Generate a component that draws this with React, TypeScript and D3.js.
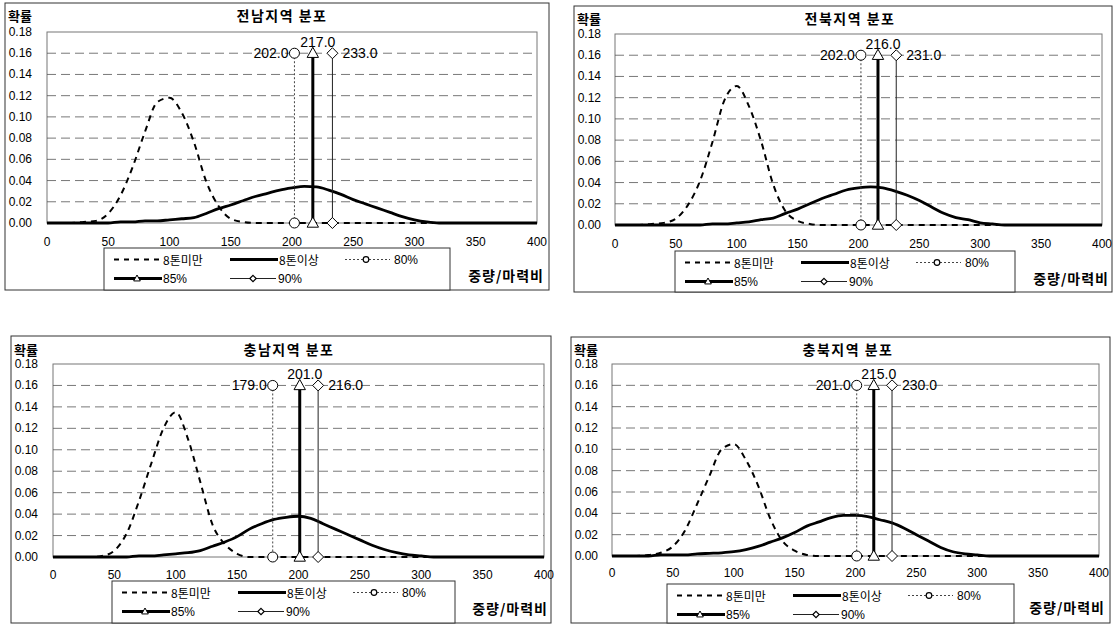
import React from 'react';
import * as d3 from 'd3';

// ---------- DATA ----------
const xGrid = [0, 10, 20, 30, 40, 50, 60, 70, 80, 90, 100, 110, 120, 130, 140, 150, 160, 170, 180, 190, 200,
  210, 220, 230, 240, 250, 260, 270, 280, 290, 300, 310, 320, 330, 340, 350, 360, 370, 380, 390, 400];

const regionTitles = ['전남지역 분포', '전북지역 분포', '충남지역 분포', '충북지역 분포'];

// 8톤미만 (dashed)
const under8Jeonnam = [0, 0, 0, 0.001, 0.002, 0.009, 0.026, 0.053, 0.086, 0.114, 0.118, 0.104, 0.076, 0.039, 0.016, 0.004, 0.001,
  0, 0, 0, 0, 0, 0, 0, 0, 0, 0, 0, 0, 0, 0, 0, 0, 0, 0, 0, 0, 0, 0, 0, 0];
const under8Jeonbuk = [0, 0, 0, 0.001, 0.002, 0.006, 0.019, 0.042, 0.078, 0.118, 0.131, 0.112, 0.079, 0.038, 0.013, 0.004, 0.001,
  0, 0, 0, 0, 0, 0, 0, 0, 0, 0, 0, 0, 0, 0, 0, 0, 0, 0, 0, 0, 0, 0, 0, 0];
const under8Chungnam = [0, 0, 0, 0, 0.001, 0.006, 0.022, 0.052, 0.087, 0.12, 0.135, 0.11, 0.07, 0.03, 0.012, 0.003,
  0, 0, 0, 0, 0, 0, 0, 0, 0, 0, 0, 0, 0, 0, 0, 0, 0, 0, 0, 0, 0, 0, 0, 0, 0];
const under8Chungbuk = [0, 0, 0, 0.001, 0.003, 0.009, 0.024, 0.049, 0.075, 0.1, 0.105, 0.09, 0.066, 0.035, 0.014, 0.005, 0.001,
  0, 0, 0, 0, 0, 0, 0, 0, 0, 0, 0, 0, 0, 0, 0, 0, 0, 0, 0, 0, 0, 0, 0, 0];

// 8톤이상 (solid)
const over8Jeonnam = [0, 0, 0, 0, 0, 0, 0.001, 0.001, 0.002, 0.002, 0.003, 0.004, 0.005, 0.009, 0.0135, 0.017, 0.021, 0.025,
  0.028, 0.031, 0.033, 0.0345, 0.034, 0.031, 0.027, 0.022, 0.018, 0.014, 0.01, 0.006, 0.003, 0.001,
  0, 0, 0, 0, 0, 0, 0, 0, 0];
const over8Jeonbuk = [0, 0, 0, 0, 0, 0, 0, 0, 0.001, 0.001, 0.002, 0.003, 0.005, 0.0065, 0.011, 0.015, 0.02, 0.025,
  0.029, 0.033, 0.035, 0.036, 0.035, 0.032, 0.028, 0.023, 0.017, 0.011, 0.007, 0.005, 0.002, 0.001,
  0, 0, 0, 0, 0, 0, 0, 0, 0];
const over8Chungnam = [0, 0, 0, 0, 0, 0, 0, 0.001, 0.001, 0.002, 0.003, 0.004, 0.006, 0.01, 0.014, 0.019, 0.026, 0.031,
  0.035, 0.037, 0.038, 0.036, 0.031, 0.026, 0.021, 0.016, 0.011, 0.007, 0.004, 0.002, 0.001,
  0, 0, 0, 0, 0, 0, 0, 0, 0, 0];
const over8Chungbuk = [0, 0, 0, 0, 0.001, 0.001, 0.001, 0.002, 0.0025, 0.003, 0.004, 0.006, 0.009, 0.013, 0.017, 0.022, 0.028,
  0.032, 0.036, 0.038, 0.038, 0.037, 0.034, 0.031, 0.026, 0.02, 0.014, 0.008, 0.004, 0.002, 0.001,
  0, 0, 0, 0, 0, 0, 0, 0, 0, 0];

// percentile positions
const p80 = [202, 202, 179, 201];
const p85 = [217, 216, 201, 215];
const p90 = [233, 231, 216, 230];
const markerLevel = 0.16;

const yTicks = [0, 0.02, 0.04, 0.06, 0.08, 0.1, 0.12, 0.14, 0.16, 0.18];
const xTicks = [0, 50, 100, 150, 200, 250, 300, 350, 400];
const legendLabels = ['8톤미만', '8톤이상', '80%', '85%', '90%'];
const yAxisTitle = '확률';
const xAxisTitle = '중량/마력비';

const under8 = [under8Jeonnam, under8Jeonbuk, under8Chungnam, under8Chungbuk];
const over8 = [over8Jeonnam, over8Jeonbuk, over8Chungnam, over8Chungbuk];

// ---------- LAYOUT ----------
type Layout = {
  border: [number, number, number, number];
  plot: [number, number, number, number];
  titleX: number; titleY: number; xlabY: number;
  legend: [number, number, number, number];
  unitRight: number; unitY: number;
};
const layouts: Layout[] = [
  { border: [5, 3, 549, 290], plot: [47, 32, 537, 223], titleX: 282, titleY: 15, xlabY: 242, legend: [104, 248, 450, 290], unitRight: 544, unitY: 275 },
  { border: [574, 6, 1112, 292], plot: [615, 34, 1102, 225], titleX: 850, titleY: 18, xlabY: 244, legend: [675, 251, 1015, 292], unitRight: 1109, unitY: 278 },
  { border: [11, 336, 551, 623], plot: [53, 364, 544, 557], titleX: 289, titleY: 349, xlabY: 575, legend: [112, 581, 455, 623], unitRight: 548, unitY: 608 },
  { border: [571, 337, 1110, 623], plot: [612, 364, 1099, 556], titleX: 848, titleY: 349, xlabY: 573, legend: [667, 584, 1014, 623], unitRight: 1105, unitY: 607 },
];

const NUM_FONT = "'Liberation Sans', Arial, sans-serif";
const KR_FONT = "'Noto Sans CJK KR', 'Noto Sans', sans-serif";

const triPath = (s: number) => `M0,${-s}L${s * 0.95},${s * 0.7}L${-s * 0.95},${s * 0.7}Z`;
const diaPath = (s: number) => `M0,${-s}L${s},0L0,${s}L${-s},0Z`;

function Panel({ i }: { i: number }) {
  const L = layouts[i];
  const [px0, py0, px1, py1] = L.plot;
  const x = d3.scaleLinear().domain([0, 400]).range([px0, px1]);
  const y = d3.scaleLinear().domain([0, 0.18]).range([py1, py0]);
  const line = d3.line<number>().x((_, k) => x(xGrid[k])).y((d) => y(d)).curve(d3.curveMonotoneX);
  const [bx0, by0, bx1, by1] = L.border;
  const [lx0, ly0, lx1, ly1] = L.legend;
  const r1 = ly0 + 11.5;
  const r2 = ly0 + 30.5;
  const yTop = y(markerLevel);
  const yBot = y(0);
  const c80 = x(p80[i]);
  const c85 = x(p85[i]);
  const c90 = x(p90[i]);
  return (
    <g>
      <rect x={bx0} y={by0} width={bx1 - bx0} height={by1 - by0} fill="#fff" stroke="#333" strokeWidth={1} />
      <text x={bx0 + 3} y={L.titleY} dominantBaseline="central" fontFamily={KR_FONT} fontSize={13} fontWeight={700}>{yAxisTitle}</text>
      <text x={L.titleX} y={L.titleY} dominantBaseline="central" textAnchor="middle" fontFamily={KR_FONT} fontSize={14} fontWeight={700} letterSpacing={1.5}>{regionTitles[i]}</text>
      {/* plot area */}
      <rect x={px0} y={py0} width={px1 - px0} height={py1 - py0} fill="none" stroke="#777" strokeWidth={1} />
      {yTicks.filter((t) => t > 0 && t < 0.18).map((t) => (
        <line key={t} x1={px0} x2={px1} y1={y(t)} y2={y(t)} stroke="#555" strokeWidth={0.8} strokeDasharray="9,5" />
      ))}
      {yTicks.map((t) => (
        <text key={t} x={bx0 + 27} y={y(t)} textAnchor="end" dominantBaseline="central" fontFamily={NUM_FONT} fontSize={12}>{t.toFixed(2)}</text>
      ))}
      {xTicks.map((t) => (
        <text key={t} x={x(t)} y={L.xlabY} textAnchor="middle" dominantBaseline="central" fontFamily={NUM_FONT} fontSize={12}>{t}</text>
      ))}
      {/* series */}
      <path d={line(under8[i]) || ''} fill="none" stroke="#000" strokeWidth={2} strokeDasharray="6,5" />
      <path d={line(over8[i]) || ''} fill="none" stroke="#000" strokeWidth={2.8} />
      {/* 80% */}
      <line x1={c80} x2={c80} y1={yTop} y2={yBot} stroke="#444" strokeWidth={1} strokeDasharray="2,2" />
      {/* 90% */}
      <line x1={c90} x2={c90} y1={yTop} y2={yBot} stroke="#222" strokeWidth={1} />
      {/* 85% */}
      <line x1={c85} x2={c85} y1={yTop} y2={yBot} stroke="#000" strokeWidth={3} />
      {[yTop, yBot].map((yy, k) => (
        <g key={k}>
          <circle cx={c80} cy={yy} r={5} fill="#fff" stroke="#000" strokeWidth={1} />
          <path d={triPath(6)} transform={`translate(${c85},${yy})`} fill="#fff" stroke="#000" strokeWidth={1} />
          <path d={diaPath(5.5)} transform={`translate(${c90},${yy})`} fill="#fff" stroke="#000" strokeWidth={1} />
        </g>
      ))}
      <text x={c80 - 6} y={yTop} textAnchor="end" dominantBaseline="central" fontFamily={NUM_FONT} fontSize={14}>{p80[i].toFixed(1)}</text>
      <text x={c85 + 5} y={yTop - 11} textAnchor="middle" dominantBaseline="central" fontFamily={NUM_FONT} fontSize={14}>{p85[i].toFixed(1)}</text>
      <text x={c90 + 10} y={yTop} textAnchor="start" dominantBaseline="central" fontFamily={NUM_FONT} fontSize={14}>{p90[i].toFixed(1)}</text>
      {/* legend */}
      <rect x={lx0} y={ly0} width={lx1 - lx0} height={ly1 - ly0} fill="#fff" stroke="#333" strokeWidth={1} />
      <line x1={lx0 + 10} x2={lx0 + 58} y1={r1} y2={r1} stroke="#000" strokeWidth={2} strokeDasharray="5,5" />
      <text x={lx0 + 59} y={r1} dominantBaseline="central" fontFamily={KR_FONT} fontSize={12}>{legendLabels[0]}</text>
      <line x1={lx0 + 126} x2={lx0 + 174} y1={r1} y2={r1} stroke="#000" strokeWidth={2.8} />
      <text x={lx0 + 175} y={r1} dominantBaseline="central" fontFamily={KR_FONT} fontSize={12}>{legendLabels[1]}</text>
      <line x1={lx0 + 241} x2={lx0 + 286} y1={r1} y2={r1} stroke="#444" strokeWidth={1} strokeDasharray="2,2" />
      <circle cx={lx0 + 262} cy={r1} r={2.8} fill="#fff" stroke="#000" strokeWidth={1.2} />
      <text x={lx0 + 290} y={r1} dominantBaseline="central" fontFamily={NUM_FONT} fontSize={12}>{legendLabels[2]}</text>
      <line x1={lx0 + 10} x2={lx0 + 58} y1={r2} y2={r2} stroke="#000" strokeWidth={2.8} />
      <path d={triPath(3.5)} transform={`translate(${lx0 + 33},${r2})`} fill="#fff" stroke="#000" strokeWidth={1} />
      <text x={lx0 + 59} y={r2} dominantBaseline="central" fontFamily={NUM_FONT} fontSize={12}>{legendLabels[3]}</text>
      <line x1={lx0 + 126} x2={lx0 + 172} y1={r2} y2={r2} stroke="#222" strokeWidth={1} />
      <path d={diaPath(3.2)} transform={`translate(${lx0 + 149},${r2})`} fill="#fff" stroke="#000" strokeWidth={1.2} />
      <text x={lx0 + 174} y={r2} dominantBaseline="central" fontFamily={NUM_FONT} fontSize={12}>{legendLabels[4]}</text>
      <text x={L.unitRight} y={L.unitY} textAnchor="end" dominantBaseline="central" fontFamily={KR_FONT} fontSize={14} fontWeight={700} letterSpacing={1}>{xAxisTitle}</text>
    </g>
  );
}

export default function App() {
  return (
    <svg width={1118} height={625} style={{ position: 'absolute', left: 0, top: 0, background: '#fff' }}>
      <rect x={0} y={0} width={1118} height={625} fill="#fff" />
      {[0, 1, 2, 3].map((i) => <Panel key={i} i={i} />)}
    </svg>
  );
}
